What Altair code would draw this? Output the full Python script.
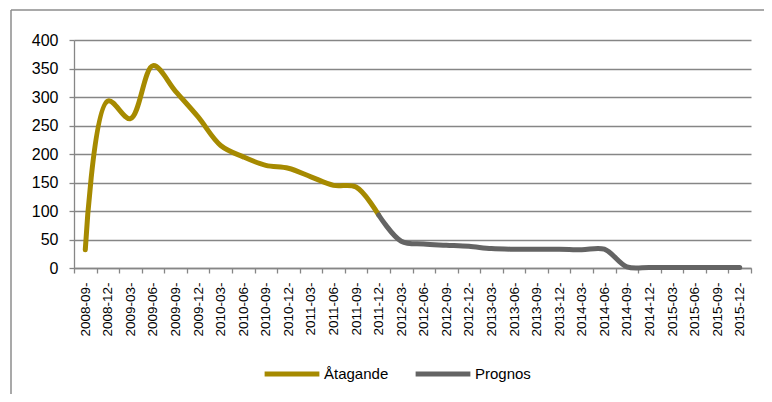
import altair as alt
import pandas as pd

quarters = ["2008-09-", "2008-12-",
            "2009-03-", "2009-06-", "2009-09-", "2009-12-",
            "2010-03-", "2010-06-", "2010-09-", "2010-12-",
            "2011-03-", "2011-06-", "2011-09-", "2011-12-",
            "2012-03-", "2012-06-", "2012-09-", "2012-12-",
            "2013-03-", "2013-06-", "2013-09-", "2013-12-",
            "2014-03-", "2014-06-", "2014-09-", "2014-12-",
            "2015-03-", "2015-06-", "2015-09-", "2015-12-"]

atagande_q = quarters[:14]
atagande_v = [32, 293, 262, 355, 310, 265, 215, 195, 180, 175, 160, 145, 142, 93]

prognos_q = quarters[13:]
prognos_v = [93, 47, 42, 40, 38, 34, 33, 33, 33, 32, 33, 2, 1, 1, 1, 1, 1]

series_names = ["Åtagande", "Prognos"]
series_colors = ["#A68A00", "#646464"]

rows = []
for q, v in zip(atagande_q, atagande_v):
    rows.append({"q": q, "v": v, "s": "Åtagande"})
for q, v in zip(prognos_q, prognos_v):
    rows.append({"q": q, "v": v, "s": "Prognos"})
df = pd.DataFrame(rows)

FONT = "Liberation Sans"

lines = alt.Chart(df).mark_line(
    interpolate="catmull-rom", strokeWidth=5, strokeCap="round", strokeJoin="round"
).encode(
    x=alt.X("q:N", sort=quarters, scale=alt.Scale(domain=quarters, paddingInner=0, paddingOuter=0),
            axis=alt.Axis(title=None, labelAngle=-90, labelAlign="right", labelBaseline="middle",
                          tickBand="extent", ticks=True, tickSize=5, tickColor="#868686",
                          domainColor="#868686", labelPadding=9, labelFontSize=13.5,
                          labelColor="#000000", grid=False, labelFont=FONT)),
    y=alt.Y("v:Q", scale=alt.Scale(domain=[0, 400]),
            axis=alt.Axis(title=None, values=list(range(0, 401, 50)), tickSize=5,
                          tickColor="#868686", domainColor="#868686", gridColor="#868686",
                          gridWidth=1.3, labelPadding=11, labelFontSize=16, labelColor="#000000",
                          labelFont=FONT)),
    color=alt.Color("s:N", scale=alt.Scale(domain=series_names, range=series_colors),
                    legend=alt.Legend(title=None, orient="none", direction="horizontal",
                                      legendX=188, legendY=304, symbolType="stroke",
                                      symbolSize=3000, symbolStrokeWidth=5, labelFontSize=15,
                                      labelFont=FONT, labelColor="#000000", columnPadding=16,
                                      labelOffset=2)),
    detail="s:N",
)

border = alt.Chart(pd.DataFrame({"a": [0]})).mark_rule(color="#8c8c8c", strokeWidth=1.5).encode(
    x=alt.value(-63), x2=alt.value(720), y=alt.value(-30)
)
border_left = alt.Chart(pd.DataFrame({"a": [0]})).mark_rule(color="#8c8c8c", strokeWidth=1.5).encode(
    x=alt.value(-63), y=alt.value(-30), y2=alt.value(400)
)

chart = alt.layer(border, border_left, lines).properties(
    width=677, height=228,
    autosize=alt.AutoSizeParams(type="none"),
    padding={"left": 66, "top": 32, "right": 13, "bottom": 126},
).configure_view(stroke=None).configure_axis(domainWidth=1.3, tickWidth=1.3)

chart.save("out.html", embed_options={"renderer": "svg", "actions": False})
